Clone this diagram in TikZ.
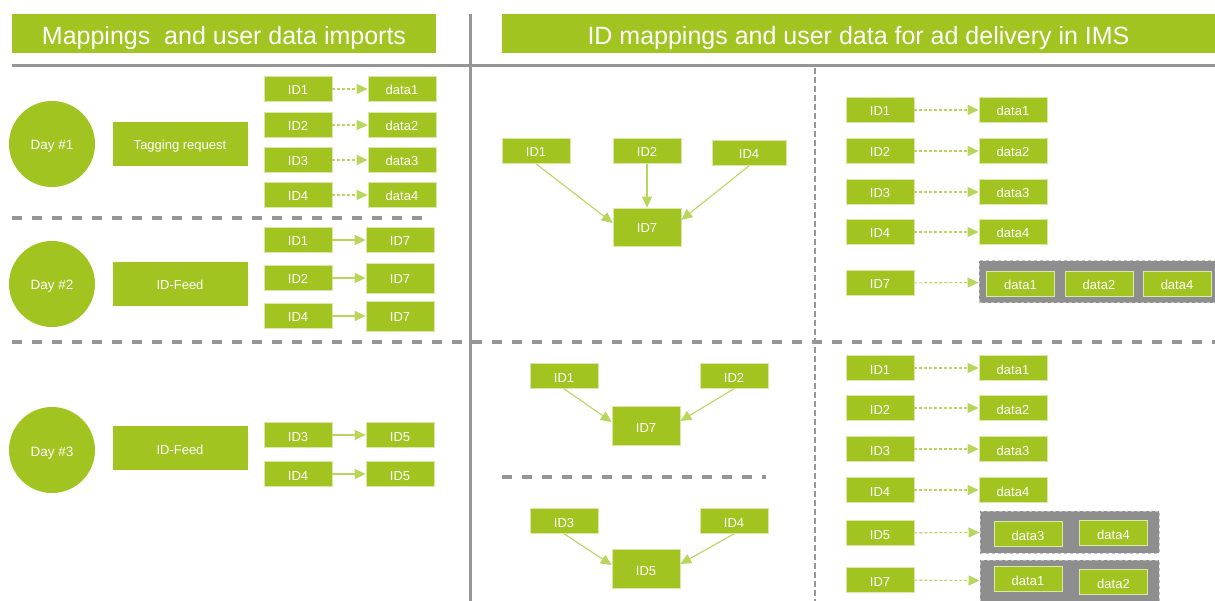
\documentclass[tikz,border=0pt]{standalone}
\usepackage{fontspec}
\setmainfont{Liberation Sans}
\usepackage{tikz}
\usetikzlibrary{calc, positioning, arrows.meta, fit}
\usepackage{xcolor}
\definecolor{imsGreen}{RGB}{162, 196, 33}
\definecolor{linkGreen}{RGB}{184, 214, 92}
\definecolor{lineGray}{RGB}{150, 150, 150}
\definecolor{groupGray}{RGB}{142, 142, 142}

\begin{document}
\begin{tikzpicture}[x=1pt, y=-1pt,
  header/.style={fill=imsGreen, text=white, font=\fontsize{25}{28}\selectfont, minimum height=39pt, text height=23pt, text depth=0pt, inner sep=0pt},
  daybox/.style={circle, fill=imsGreen, text=white, font=\fontsize{13.5}{15}\selectfont, minimum size=86pt, text height=12pt, text depth=0pt, inner sep=0pt},
  stepbox/.style={fill=imsGreen, text=white, font=\fontsize{13}{15}\selectfont, minimum width=135pt, minimum height=44pt, text height=12pt, text depth=0pt, inner sep=0pt},
  idbox/.style={fill=imsGreen, draw=imsGreen!40, line width=0.6pt, text=white, font=\fontsize{13}{15}\selectfont, minimum width=68pt, minimum height=25pt, text height=12pt, text depth=0pt, inner sep=0pt},
  groupbox/.style={fill=groupGray, draw=lineGray!60, dashed, line width=1pt, inner sep=7pt},
  maplink/.style={linkGreen, line width=1.1pt, dashed, dash pattern=on 3pt off 2pt, -{Triangle[length=11pt, width=10pt]}},
  feedlink/.style={linkGreen, line width=1.1pt, -{Triangle[length=11pt, width=10pt]}},
  solidsep/.style={lineGray, line width=3pt},
  dashsep/.style={lineGray, line width=3.5pt, dash pattern=on 10pt off 10pt},
  colsep/.style={lineGray, line width=2.5pt, dash pattern=on 6pt off 3pt}]
  \useasboundingbox (0,0) rectangle (1215,601);

  % headers and separators
  \node[header, minimum width=424pt] (hleft) at (224,33.5) {Mappings\ \ and user data imports};
  \node[header, minimum width=713pt] (hright) at (858.5,33.5) {ID mappings and user data for ad delivery in IMS};
  \draw[solidsep] (470,14) -- (470,601);
  \draw[solidsep] (12,66) -- (1215,66);
  \draw[dashsep] (12,218) -- (430,218);
  \draw[dashsep] (12,342) -- (1215,342);
  \draw[dashsep] (502,477) -- (766,477);
  \draw[colsep] (815,68) -- (815,601);

  % day 1
  \node[daybox] (day1) at (52,144) {Day \#1};
  \node[stepbox] (tag) at (180,144) {Tagging request};
  \foreach \i/\y in {1/89,2/125,3/160,4/195} {
    \node[idbox] (t\i) at (298,\y) {ID\i};
    \node[idbox] (td\i) at (402,\y) {data\i};
    \draw[maplink] (t\i) -- (td\i);
  }

  % day 2
  \node[daybox] (day2) at (52,284) {Day \#2};
  \node[stepbox] (feed2) at (180,284) {ID-Feed};
  \foreach \i/\y/\h in {1/240/25,2/278/30,4/316/30} {
    \node[idbox] (f\i) at (298,\y) {ID\i};
    \node[idbox, minimum height=\h pt] (fd\i) at (400,\y) {ID7};
    \draw[feedlink] (f\i) -- (fd\i);
  }

  % day 3
  \node[daybox] (day3) at (52,450) {Day \#3};
  \node[stepbox] (feed3) at (180,448) {ID-Feed};
  \foreach \i/\y in {3/435,4/474} {
    \node[idbox] (g\i) at (298,\y) {ID\i};
    \node[idbox] (gd\i) at (400,\y) {ID5};
    \draw[feedlink] (g\i) -- (gd\i);
  }

  % merged IDs after day 2
  \node[idbox] (m1) at (536,151) {ID1};
  \node[idbox] (m2) at (647,151) {ID2};
  \node[idbox, minimum width=74pt] (m4) at (749,153) {ID4};
  \node[idbox, minimum height=38pt] (m7) at (647,227) {ID7};
  \draw[feedlink] (m1.south) -- ([yshift=4pt]m7.west);
  \draw[feedlink] (m2) -- (m7);
  \draw[feedlink] (m4.south) -- ([yshift=7pt]m7.east);

  % merged IDs after day 3
  \node[idbox] (n1) at (564,376) {ID1};
  \node[idbox] (n2) at (734,376) {ID2};
  \node[idbox, minimum height=39pt] (n7) at (646,426) {ID7};
  \draw[feedlink] (n1.south) -- ([yshift=4pt]n7.west);
  \draw[feedlink] (n2.south) -- ([yshift=5pt]n7.east);
  \node[idbox] (n3) at (564,521) {ID3};
  \node[idbox] (n4) at (734,521) {ID4};
  \node[idbox, minimum height=39pt] (n5) at (646,569) {ID5};
  \draw[feedlink] (n3.south) -- ([yshift=4pt]n5.west);
  \draw[feedlink] (n4.south) -- ([yshift=5pt]n5.east);

  % user data after day 2
  \foreach \i/\y in {1/110,2/151,3/192,4/232} {
    \node[idbox] (r\i) at (880,\y) {ID\i};
    \node[idbox] (rd\i) at (1013,\y) {data\i};
    \draw[maplink] (r\i) -- (rd\i);
  }
  \node[idbox] (r7) at (880,283) {ID7};
  \node[groupbox, minimum width=236pt, minimum height=42pt] (rg) at (1097,282) {};
  \node[idbox] (rg1) at (1020.5,284) {data1};
  \node[idbox] (rg2) at (1099,284) {data2};
  \node[idbox] (rg4) at (1177,284) {data4};
  \draw[maplink] (r7) -- (rg);

  % user data after day 3
  \foreach \i/\y in {1/368,2/408,3/449,4/490} {
    \node[idbox] (s\i) at (880,\y) {ID\i};
    \node[idbox] (sd\i) at (1013,\y) {data\i};
    \draw[maplink] (s\i) -- (sd\i);
  }
  \node[idbox] (s5) at (880,533) {ID5};
  \node[groupbox, minimum width=179pt, minimum height=42pt] (sg5) at (1069.5,532) {};
  \node[idbox] (sg3) at (1028,534) {data3};
  \node[idbox] (sg4) at (1113.5,533) {data4};
  \draw[maplink] (s5) -- (sg5);
  \node[idbox] (s7) at (880,580) {ID7};
  \node[groupbox, minimum width=179pt, minimum height=42pt] (sg7) at (1069.5,581) {};
  \node[idbox] (sg71) at (1028,579) {data1};
  \node[idbox] (sg72) at (1113.5,582) {data2};
  \draw[maplink] (s7) -- (sg7);
\end{tikzpicture}
\end{document}
